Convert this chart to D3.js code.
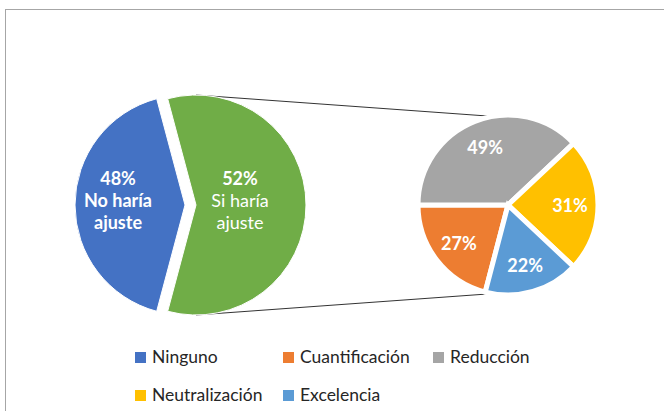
<!DOCTYPE html>
<html><head><meta charset="utf-8">
<script src="https://cdn.jsdelivr.net/npm/d3@7"></script>
<style>
body{margin:0;background:#fff}
svg{display:block}
text{font-family:Lato,"Open Sans",sans-serif}
</style>
</head><body>
<svg id="c" width="664" height="411"></svg>
<script>
// ---------- data ----------
const mainCategories = ["Ninguno", "Si haría ajuste"];
const mainPercents = [48, 52];
const mainLabelLines = [["48%", "No haría", "ajuste"], ["52%", "Si haría", "ajuste"]];
const subCategories = ["Cuantificación", "Reducción", "Neutralización", "Excelencia"];
const subPercents = [27, 49, 31, 22];
const legendLabels = ["Ninguno", "Cuantificación", "Reducción", "Neutralización", "Excelencia"];

// ---------- style / layout ----------
const colors = {
  "Ninguno": "#4472C4", "Si haría ajuste": "#70AD47",
  "Cuantificación": "#ED7D31", "Reducción": "#A5A5A5",
  "Neutralización": "#FFC000", "Excelencia": "#5B9BD5"
};
const W = 664, H = 411;
const c1 = {x: 190.5, y: 205}, r1 = 110, explode1 = 5.5;
const c2 = {x: 508, y: 205}, r2 = 90, subStroke = 5;
const mainLabelR = [67, 44];
const subLabelR = 62;
const labelSize = 18;
const legendSize = 17.5;

const svg = d3.select("#c");

// frame
svg.append("rect").attr("x", 5.5).attr("y", 9.5).attr("width", W + 20).attr("height", H + 20)
  .attr("fill", "none").attr("stroke", "#a6a6a6").attr("stroke-width", 1);

// ---------- values: Excel pie-of-pie (second plot shares scaled to the 52%) ----------
const subValues = subPercents.map(p => p / 100 * mainPercents[1]);
const otherValue = d3.sum(subValues);
const mainValues = [mainPercents[0], otherValue];

const mainData = mainCategories.map((c, i) => ({cat: c, v: mainValues[i], lines: mainLabelLines[i], lr: mainLabelR[i]}));
const blueAngle = 2 * Math.PI * mainValues[0] / d3.sum(mainValues);
const s1 = 1.5 * Math.PI - blueAngle / 2;
const pie1 = d3.pie().sort(null).value(d => d.v).startAngle(s1).endAngle(s1 + 2 * Math.PI);
const arcs1 = pie1(mainData);

const subData = subCategories.map((c, i) => ({cat: c, v: subPercents[i], p: subPercents[i]}));
const cuantAngle = 2 * Math.PI * subPercents[0] / d3.sum(subPercents);
const s2 = -0.5 * Math.PI - cuantAngle;
const pie2 = d3.pie().sort(null).value(d => d.v).startAngle(s2).endAngle(s2 + 2 * Math.PI);
const arcs2 = pie2(subData);

const arc1 = d3.arc().innerRadius(0).outerRadius(r1);
const arc2 = d3.arc().innerRadius(0).outerRadius(r2);

function offset(a, d) {
  const m = (a.startAngle + a.endAngle) / 2;
  return [d * Math.sin(m), -d * Math.cos(m)];
}

// connector lines (under pies)
const gOther = arcs1[1];
const go = offset(gOther, explode1);
const vis2 = r2 - subStroke / 2;
svg.append("line").attr("x1", c1.x + go[0]).attr("y1", c1.y - r1)
  .attr("x2", c2.x).attr("y2", c2.y - vis2).attr("stroke", "#333").attr("stroke-width", 1);
svg.append("line").attr("x1", c1.x + go[0]).attr("y1", c1.y + r1)
  .attr("x2", c2.x).attr("y2", c2.y + vis2).attr("stroke", "#333").attr("stroke-width", 1);

// main pie
const g1 = svg.append("g").attr("transform", `translate(${c1.x},${c1.y})`);
arcs1.forEach(a => {
  const o = offset(a, explode1);
  const g = g1.append("g").attr("transform", `translate(${o[0]},${o[1]})`);
  g.append("path").attr("d", arc1(a)).attr("fill", colors[a.data.cat])
    .attr("stroke", "#fff").attr("stroke-width", 1);
  const m = (a.startAngle + a.endAngle) / 2;
  const lx = a.data.lr * Math.sin(m), ly = -a.data.lr * Math.cos(m) - 5;
  const bold = a.index === 0;
  const t = g.append("text").attr("text-anchor", "middle").attr("fill", "#fff")
    .attr("font-size", labelSize);
  a.data.lines.forEach((ln, i) => {
    t.append("tspan").attr("x", lx).attr("y", ly + (i - 1) * 22)
      .attr("dominant-baseline", "central")
      .attr("font-weight", (i === 0 || bold) ? "bold" : "normal")
      .text(ln);
  });
});

// second pie
const g2 = svg.append("g").attr("transform", `translate(${c2.x},${c2.y})`);
g2.selectAll("path").data(arcs2).join("path")
  .attr("d", arc2).attr("fill", d => colors[d.data.cat])
  .attr("stroke", "#fff").attr("stroke-width", subStroke).attr("stroke-linejoin", "miter");
g2.selectAll("text").data(arcs2).join("text")
  .attr("x", d => subLabelR * Math.sin((d.startAngle + d.endAngle) / 2))
  .attr("y", d => -subLabelR * Math.cos((d.startAngle + d.endAngle) / 2))
  .attr("text-anchor", "middle").attr("dominant-baseline", "central")
  .attr("fill", "#fff").attr("font-size", labelSize).attr("font-weight", "bold")
  .text(d => d.data.p + "%");

// legend
const legX = [135, 283, 433];
const legY = [352, 390];
const leg = svg.append("g");
legendLabels.forEach((l, i) => {
  const col = i % 3, row = Math.floor(i / 3);
  const x = legX[col], y = legY[row];
  leg.append("rect").attr("x", x).attr("y", y).attr("width", 11).attr("height", 11)
    .attr("fill", colors[l]);
  leg.append("text").attr("x", x + 17).attr("y", y + 11)
    .attr("font-size", legendSize).attr("fill", "#262626").text(l);
});
</script>
</body></html>
